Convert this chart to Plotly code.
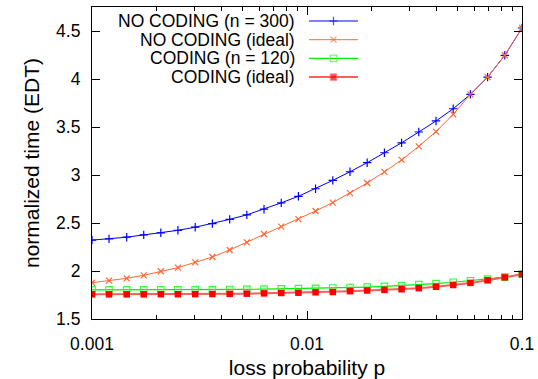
import plotly.graph_objects as go

# loss probability grid
p = [0.001, 0.0012, 0.00145, 0.00174, 0.00209, 0.00251, 0.00302, 0.00363, 0.00437,
     0.00525, 0.00631, 0.00759, 0.00912, 0.01096, 0.01318, 0.01585, 0.01905, 0.02291,
     0.02754, 0.03311, 0.03981, 0.04786, 0.05754, 0.06918, 0.08318, 0.1]

no_coding_300 = [2.322, 2.335, 2.352, 2.376, 2.398, 2.424, 2.456, 2.493, 2.538, 2.585,
                 2.644, 2.710, 2.778, 2.857, 2.944, 3.034, 3.128, 3.232, 3.335, 3.448,
                 3.563, 3.690, 3.840, 4.020, 4.247, 4.531]
no_coding_ideal = [1.878, 1.899, 1.924, 1.955, 1.997, 2.035, 2.090, 2.146, 2.219, 2.299,
                   2.385, 2.463, 2.540, 2.625, 2.713, 2.812, 2.917, 3.033, 3.157, 3.299,
                   3.451, 3.632, 3.840, 4.020, 4.247, 4.531]
coding_120 = [1.803, 1.803, 1.803, 1.804, 1.804, 1.805, 1.805, 1.806, 1.807, 1.809,
              1.811, 1.814, 1.816, 1.819, 1.823, 1.828, 1.833, 1.840, 1.847, 1.858,
              1.868, 1.883, 1.899, 1.915, 1.936, 1.967]
coding_ideal = [1.757, 1.757, 1.757, 1.757, 1.758, 1.758, 1.759, 1.760, 1.762, 1.764,
                1.767, 1.771, 1.774, 1.778, 1.781, 1.790, 1.797, 1.803, 1.810, 1.821,
                1.836, 1.854, 1.876, 1.903, 1.934, 1.967]

names = ["NO CODING (n = 300)", "NO CODING (ideal)", "CODING (n = 120)", "CODING (ideal)"]
x_ticks = [0.001, 0.01, 0.1]
x_ticktext = ["0.001", "0.01", "0.1"]
x_minor = [0.002, 0.003, 0.004, 0.005, 0.006, 0.007, 0.008, 0.009,
           0.02, 0.03, 0.04, 0.05, 0.06, 0.07, 0.08, 0.09]

FONT = "Liberation Sans, Arial, sans-serif"
styles = [
    dict(line=dict(color="#0000ff", width=1),
         marker=dict(symbol="cross-thin", size=6, line=dict(color="#0000ff", width=1.2))),
    dict(line=dict(color="#ff6633", width=1),
         marker=dict(symbol="x-thin", size=6, line=dict(color="#ff6633", width=1.2))),
    dict(line=dict(color="#00ee00", width=1.2),
         marker=dict(symbol="square-open", size=6.5, color="#33ff33", line=dict(width=1.1))),
    dict(line=dict(color="#ff5c5c", width=2),
         marker=dict(symbol="square", size=6.5, color="#ff0000")),
]
series = [no_coding_300, no_coding_ideal, coding_120, coding_ideal]

fig = go.Figure()
for name, ys, st in zip(names, series, styles):
    fig.add_trace(go.Scatter(x=p, y=ys, mode="lines+markers", name=name,
                             line=st["line"], marker=st["marker"], showlegend=False))

# gnuplot-style key: right-aligned text, sample to the right
key_rows = [0.9551, 0.8952, 0.8353, 0.7753]
key_text_x = 0.4767
key_line = [0.5047, 0.5616, 0.6186]
for name, yy, st in zip(names, key_rows, styles):
    m = dict(st["marker"])
    m["size"] = [0, m["size"], 0]
    fig.add_trace(go.Scatter(x=key_line, y=[yy] * 3, mode="lines+markers",
                             line=st["line"], marker=m, showlegend=False,
                             xaxis="x2", yaxis="y2", hoverinfo="skip"))
    fig.add_annotation(x=key_text_x, y=yy, xref="paper", yref="paper", text=name,
                       showarrow=False, xanchor="right", yanchor="middle",
                       font=dict(family=FONT, size=17.5, color="black"))

fig.update_layout(
    width=538, height=379,
    margin=dict(l=92, r=16, t=7, b=60),
    paper_bgcolor="white", plot_bgcolor="white",
    font=dict(family=FONT, size=17.5, color="black"),
    xaxis=dict(type="log", range=[-3, -1], tickvals=x_ticks, ticktext=x_ticktext,
               ticks="inside", ticklen=8, tickcolor="black", showline=True,
               linecolor="black", linewidth=1.2, mirror="allticks", showgrid=False,
               zeroline=False, ticklabelstandoff=9, automargin=False,
               minor=dict(tickvals=x_minor, ticks="inside", ticklen=4,
                          tickcolor="black", showgrid=False),
               title=dict(text="loss probability p", standoff=14)),
    yaxis=dict(range=[1.5, 4.75], tick0=1.5, dtick=0.5, ticks="inside", ticklen=8,
               tickcolor="black", showline=True, linecolor="black", linewidth=1.2,
               mirror="allticks", showgrid=False, zeroline=False, ticklabelstandoff=7,
               automargin=False,
               title=dict(text="normalized time (EDT)", standoff=10)),
    xaxis2=dict(overlaying="x", range=[0, 1], visible=False, anchor="y2"),
    yaxis2=dict(overlaying="y", range=[0, 1], visible=False, anchor="x2"),
)

fig.write_html("out.html")
